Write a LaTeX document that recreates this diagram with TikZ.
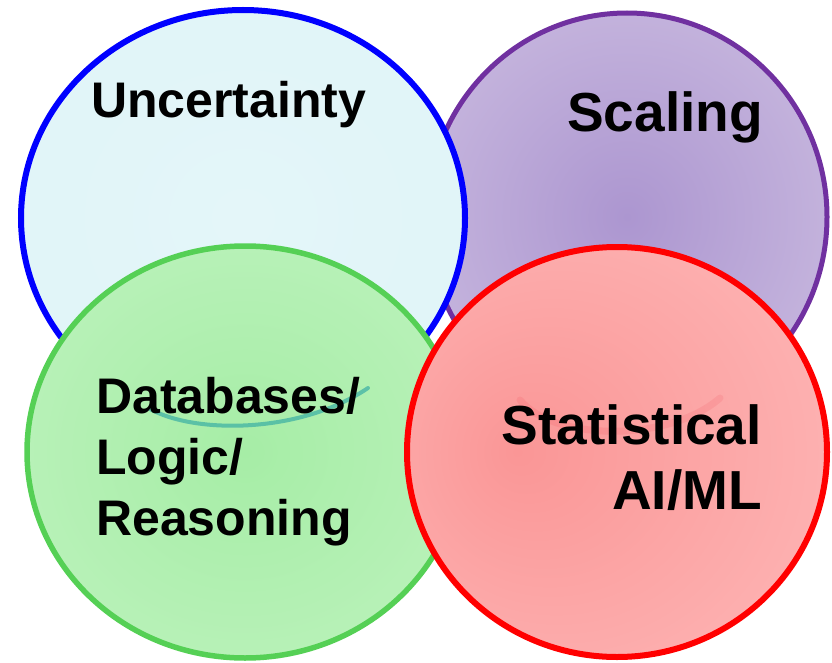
\documentclass[tikz,border=0pt]{standalone}
\usepackage{fontspec}
\setmainfont{Liberation Sans}
\usetikzlibrary{shapes.geometric}

\definecolor{uncline}{RGB}{0,0,255}
\definecolor{uncmid}{RGB}{228,246,249}
\definecolor{uncedge}{RGB}{221,243,247}
\definecolor{scaline}{RGB}{112,48,160}
\definecolor{scamid}{RGB}{172,150,208}
\definecolor{scaedge}{RGB}{218,206,232}
\definecolor{dbline}{RGB}{85,208,85}
\definecolor{dbmid}{RGB}{166,237,166}
\definecolor{dbedge}{RGB}{200,245,200}
\definecolor{statline}{RGB}{255,0,0}
\definecolor{statmid}{RGB}{250,150,150}
\definecolor{statedge}{RGB}{255,194,194}

\pgfdeclareradialshading{uncglow}{\pgfpoint{0bp}{0bp}}{color(0bp)=(uncmid); color(50bp)=(uncedge)}
\pgfdeclareradialshading{scaglow}{\pgfpoint{0bp}{0bp}}{color(0bp)=(scamid); color(50bp)=(scaedge)}
\pgfdeclareradialshading{dbglow}{\pgfpoint{0bp}{0bp}}{color(0bp)=(dbmid); color(50bp)=(dbedge)}
\pgfdeclareradialshading{statglow}{\pgfpoint{-12bp}{0bp}}{color(0bp)=(statmid); color(50bp)=(statedge)}

\begin{document}
\begin{tikzpicture}[x=1pt,y=-1pt,
    ring/.style={ellipse,inner sep=0pt,line width=6pt},
    lbl/.style={inner sep=0pt,font=\bfseries}]

    \useasboundingbox (0,0) rectangle (832,663);

    % the circles

    \node[ring,draw=scaline,line width=5pt,shading=scaglow,minimum width=400pt,
      minimum height=408pt] (sca) at (627,217) {};
    \node[ring,draw=uncline,shading=uncglow,minimum width=444pt,
      minimum height=416pt] (unc) at (243,218) {};
    \node[ring,draw=dbline,line width=5.5pt,shading=dbglow,minimum width=436pt,
      minimum height=412pt] (db) at (245,452) {};
    \draw[color=teal!60!cyan!70!gray,line width=4pt,line cap=round,opacity=.6]
    (150,409) .. controls (195,434) and (300,434) .. (368,388);
    \node[ring,draw=statline,shading=statglow,minimum width=420pt,
      minimum height=410pt] (stat) at (617,452) {};
    \draw[color=statline!60!purple,line width=7pt,line cap=round,opacity=.08]
    (520,400) .. controls (555,442) and (670,442) .. (720,398);

    % the texts

    \node[lbl,anchor=base west,font=\bfseries\fontsize{50}{61}\selectfont]
    (unct) at (91,118) {Uncertainty};
    \node[lbl,anchor=base west,font=\bfseries\fontsize{55}{66}\selectfont]
    (scat) at (567,132) {Scaling};
    \node[lbl,anchor=north west,align=left,
      font=\bfseries\fontsize{50}{61}\selectfont]
    (dbt) at (96,377) {Databases/\\Logic/\\Reasoning};
    \node[lbl,anchor=north east,align=right,
      font=\bfseries\fontsize{55}{65}\selectfont]
    (statt) at (762,404) {Statistical\\AI/ML};
  \end{tikzpicture}
\end{document}
